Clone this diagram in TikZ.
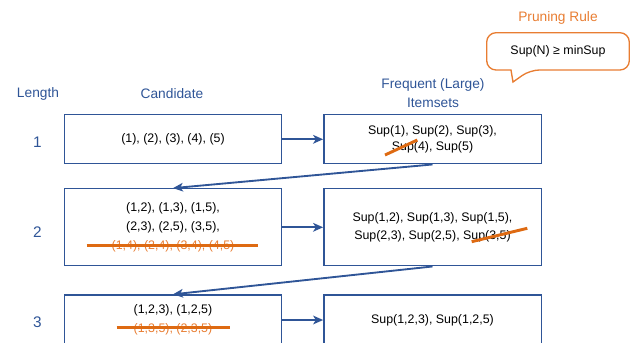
\documentclass[tikz,border=0pt]{standalone}
\usepackage{fontspec}
\setmainfont{Liberation Sans}
\usetikzlibrary{arrows.meta}
\definecolor{rblue}{RGB}{47,85,151}
\definecolor{rorange}{RGB}{222,106,18}
\definecolor{rtext}{RGB}{232,125,50}
\tikzset{
  box/.style={draw=rblue, line width=1pt, minimum width=163pt, align=center, font=\fontsize{9.3}{14}\selectfont},
  head/.style={text=rblue, font=\fontsize{10.3}{14.3}\selectfont},
  lnum/.style={text=rblue, font=\fontsize{11.5}{14}\selectfont},
  flow/.style={draw=rblue, line width=1.4pt, -{Stealth[length=7.5pt,width=6.5pt,inset=2pt]}},
  strike/.style={draw=rorange, line width=2.2pt}
}
\begin{document}
\begin{tikzpicture}[x=0.75pt,y=-0.75pt]
\path[use as bounding box, clip] (0,0) rectangle (633,343);
\node[head] (lenh) at (38,94) {Length};
\node[head] (canh) at (172,94) {Candidate};
\node[head, align=center] (freqh) at (433,92.8) {Frequent (Large)\\Itemsets};
\node[text=rtext, font=\fontsize{10.3}{14}\selectfont] (ruleh) at (558,17.5) {Pruning Rule};
\node[font=\fontsize{9.3}{14}\selectfont] (rule) at (558,51.5) {Sup(N) ≥ minSup};
\draw[draw=rtext, line width=1pt] (513,82) -- (511,70) [rounded corners=7pt] -- (486.7,70) -- (486.7,32.7) -- (629.3,32.7) -- (629.3,70) -- (530,70) [sharp corners] -- cycle;

\node[lnum] (n1) at (37.5,142.5) {1};
\node[lnum] (n2) at (37.5,232) {2};
\node[lnum] (n3) at (37.5,322.5) {3};

\node[box, minimum height=36.75pt] (c1) at (173,139.3) {(1), (2), (3), (4), (5)};
\node[box, minimum height=57.75pt] (c2) at (173,227.3) {(1,2), (1,3), (1,5),\\(2,3), (2,5), (3,5),\\\textcolor{rtext}{(1,4), (2,4), (3,4), (4,5)}};
\node[box, minimum height=37.5pt] (c3) at (173,320) {(1,2,3), (1,2,5)\\\textcolor{rtext}{(1,3,5), (2,3,5)}};
\node[box, minimum height=36.75pt, font=\fontsize{9.3}{12}\selectfont] (f1) at (432.5,139.3) {Sup(1), Sup(2), Sup(3),\\Sup(4), Sup(5)};
\node[box, minimum height=57.75pt, font=\fontsize{9.3}{13.7}\selectfont] (f2) at (432.5,227.3) {Sup(1,2), Sup(1,3), Sup(1,5),\\Sup(2,3), Sup(2,5), Sup(3,5)};
\node[box, minimum height=37.5pt] (f3) at (432.5,320) {Sup(1,2,3), Sup(1,2,5)};

\draw[flow] (c1.east) -- (f1.west);
\draw[flow] (f1.south) -- (c2.north);
\draw[flow] (c2.east) -- (f2.west);
\draw[flow] (f2.south) -- (c3.north);
\draw[flow] (c3.east) -- (f3.west);

\draw[strike] (86.7,245.3) -- (258,245.3);
\draw[strike] (116.7,327.7) -- (230,327.7);
\draw[strike] (385,155) -- (417.3,140);
\draw[strike] (471.7,241.7) -- (527.3,228.3);
\end{tikzpicture}
\end{document}
